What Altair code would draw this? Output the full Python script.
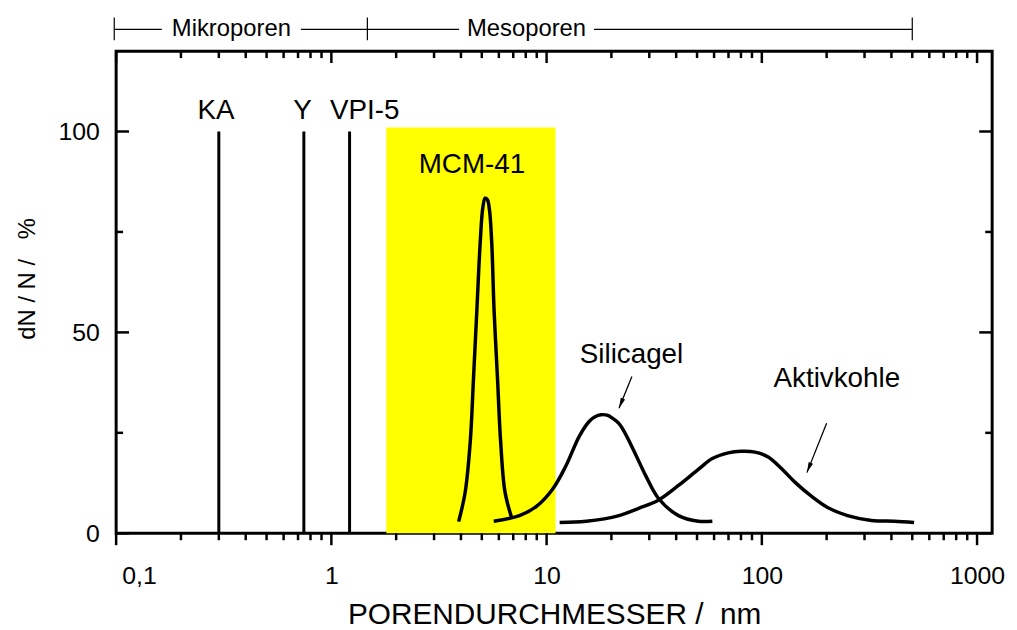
import altair as alt
import pandas as pd

FONT = "Liberation Sans"

# ---------------- data ----------------
mcm_x = [3.903, 4.187, 4.416, 4.579, 4.743, 4.912, 5.055, 5.180, 5.310, 5.427, 5.563, 5.700, 5.909, 6.119, 6.407, 6.878]
mcm_y = [2.9, 10.3, 22.6, 39.0, 55.6, 72.1, 81.1, 83.4, 83.0, 80.5, 72.1, 55.6, 39.0, 22.6, 10.3, 3.9]

sil_x = [5.68, 7.48, 8.97, 10.7, 12.3, 14.2, 15.8, 16.8, 17.9, 19.1, 20.3, 21.6, 22.6, 25.2, 28.9, 33.2, 41.0, 50.7, 58.9]
sil_y = [3.0, 4.4, 6.7, 11.1, 16.8, 24.2, 27.9, 29.0, 29.5, 29.4, 28.6, 27.4, 25.9, 21.0, 14.3, 8.6, 4.4, 3.0, 3.0]

akt_x = [11.5, 15.3, 21.7, 26.8, 33.2, 41.0, 50.7, 58.9, 69.8, 80.0, 93.0, 107, 124, 142, 171, 202, 250, 323, 412, 510]
akt_y = [2.7, 3.0, 4.4, 6.2, 8.3, 11.9, 15.9, 18.6, 20.0, 20.4, 20.2, 19.0, 16.0, 12.8, 9.1, 6.4, 4.4, 3.2, 3.0, 2.7]

zeolite_names = ["KA", "Y", "VPI-5"]
zeolite_pores = [0.30, 0.745, 1.215]
zeolite_top = [100, 100, 100]
zeolite_label_x = [0.291, 0.734, 1.43]
zeolite_label_y = [103.2, 103.2, 103.2]

band_from = [1.8]
band_to = [11.0]
band_top = [101]

curve_labels = ["MCM-41", "Silicagel", "Aktivkohle"]
curve_label_x = [4.5, 24.8, 223]
curve_label_y = [89.6, 42.5, 36.5]

arrow_x1 = [24.9, 200]
arrow_y1 = [39.0, 27.4]
arrow_x2 = [21.7, 162]
arrow_y2 = [31.1, 15.1]

range_names = ["Mikroporen", "Mesoporen"]
range_label_x = [0.343, 8.07]
range_line_from = [0.098, 0.722, 1.47, 16.6]
range_line_to = [0.163, 1.47, 3.92, 500]
range_marks = [0.098, 1.47, 500]
range_y = 125.4
range_mark_lo = 122.7
range_mark_hi = 128.4

x_major = [0.1, 1, 10, 100, 1000]
x_minor = [m * d for d in [0.1, 1, 10, 100] for m in range(2, 10)]
y_major = [0, 50, 100]
y_minor = [25, 75]

x_title = "PORENDURCHMESSER /\u00a0 nm"
y_title = "dN / N /\u00a0\u00a0 %"

W, H = 883, 486

# ---------------- scales ----------------
xs = alt.Scale(type="log", domain=[0.1, 1175], nice=False)
ys = alt.Scale(domain=[0, 120], nice=False, zero=False)

def X(field="x"):
    return alt.X(f"{field}:Q", scale=xs)

def Y(field="y"):
    return alt.Y(f"{field}:Q", scale=ys)

xaxis = alt.Axis(
    values=x_major, title=x_title,
    labelExpr="replace(format(datum.value, '~g'), '.', ',')",
    labelFont=FONT, labelFontSize=25, labelColor="black",
    labelOffset={"condition": {"test": "datum.value < 0.5", "value": 23}, "value": 0},
    labelPadding=31, ticks=False, domain=False, grid=False,
    titleFont=FONT, titleFontSize=30, titleFontWeight="normal", titleColor="black",
    titlePadding=11, labelFlush=False, labelOverlap=False,
)
yaxis = alt.Axis(
    values=y_major, title=y_title,
    labelFont=FONT, labelFontSize=25, labelColor="black",
    labelPadding=17, ticks=False, domain=False, grid=False,
    titleFont=FONT, titleFontSize=24, titleFontWeight="normal", titleColor="black",
    titleX=-89, titleY=229, titleAlign="center", titleBaseline="middle", titleAngle=270,
)

# band (carries the axes)
band_df = pd.DataFrame({"x": band_from, "x2": band_to, "y": [0], "y2": band_top})
band = alt.Chart(band_df).mark_rect(color="#FFFF00").encode(
    x=alt.X("x:Q", scale=xs, axis=xaxis), x2="x2:Q",
    y=alt.Y("y:Q", scale=ys, axis=yaxis), y2="y2:Q")

# curves
curves_df = pd.concat([
    pd.DataFrame({"x": mcm_x, "y": mcm_y, "s": "MCM-41"}),
    pd.DataFrame({"x": sil_x, "y": sil_y, "s": "Silicagel"}),
    pd.DataFrame({"x": akt_x, "y": akt_y, "s": "Aktivkohle"}),
])
curves = alt.Chart(curves_df).mark_line(
    color="black", strokeWidth=3.5, interpolate="catmull-rom"
).encode(x=X(), y=Y(), detail="s:N")

# zeolite lines
zeo_df = pd.DataFrame({"x": zeolite_pores, "y": [0] * 3, "y2": zeolite_top})
zeo = alt.Chart(zeo_df).mark_rule(color="black", strokeWidth=3).encode(
    x=X(), y=Y(), y2="y2:Q")
zeo_lab_df = pd.DataFrame({"x": zeolite_label_x, "y": zeolite_label_y, "t": zeolite_names})
zeo_lab = alt.Chart(zeo_lab_df).mark_text(
    font=FONT, fontSize=28, baseline="alphabetic", align="center", color="black"
).encode(x=X(), y=Y(), text="t:N")

# curve labels
cl_df = pd.DataFrame({"x": curve_label_x, "y": curve_label_y, "t": curve_labels})
cl = alt.Chart(cl_df).mark_text(
    font=FONT, fontSize=28, baseline="alphabetic", align="center", color="black"
).encode(x=X(), y=Y(), text="t:N")

# arrows
ar_df = pd.DataFrame({"x": arrow_x1, "y": arrow_y1, "x2": arrow_x2, "y2": arrow_y2})
ar_line = alt.Chart(ar_df).mark_rule(color="black", strokeWidth=1.3).encode(
    x=X(), y=Y(), x2="x2:Q", y2="y2:Q")
ar_head = alt.Chart(ar_df).mark_point(
    shape="M0,0L-0.45,-2L0.45,-2Z", filled=True, color="black", opacity=1,
    size=110, angle=22, strokeWidth=0
).encode(x=X("x2"), y=Y("y2"))

# range bracket above plot
rl_df = pd.DataFrame({"x": range_line_from, "x2": range_line_to, "y": [range_y] * 4})
rl = alt.Chart(rl_df).mark_rule(color="black", strokeWidth=1.2).encode(
    x=X(), x2="x2:Q", y=Y())
rm_df = pd.DataFrame({"x": range_marks, "y": [range_mark_lo] * 3, "y2": [range_mark_hi] * 3})
rm = alt.Chart(rm_df).mark_rule(color="black", strokeWidth=1.2).encode(
    x=X(), y=Y(), y2="y2:Q")
rt_df = pd.DataFrame({"x": range_label_x, "y": [range_y] * 2, "t": range_names})
rt = alt.Chart(rt_df).mark_text(
    font=FONT, fontSize=24, baseline="middle", align="center", color="black"
).encode(x=X(), y=Y(), text="t:N")

# ticks
xt_df = pd.concat([pd.DataFrame({"v": x_major, "k": "major"}),
                   pd.DataFrame({"v": x_minor, "k": "minor"})])
yt_df = pd.concat([pd.DataFrame({"v": y_major, "k": "major"}),
                   pd.DataFrame({"v": y_minor, "k": "minor"})])

def xticks(kind, y0, y1):
    return alt.Chart(xt_df).transform_filter(f"datum.k == '{kind}'").mark_rule(
        color="black", strokeWidth=2.5).encode(
        x=alt.X("v:Q", scale=xs), y=alt.value(y0), y2=alt.value(y1))

def yticks(kind, x0, x1):
    return alt.Chart(yt_df).transform_filter(f"datum.k == '{kind}'").mark_rule(
        color="black", strokeWidth=2.5).encode(
        y=alt.Y("v:Q", scale=ys), x=alt.value(x0), x2=alt.value(x1))

ticks = [
    xticks("major", H, H + 12), xticks("minor", H, H + 7),
    xticks("major", 0, 12), xticks("minor", 0, 7),
    yticks("major", 0, 13), yticks("minor", 0, 7),
    yticks("major", W, W - 13), yticks("minor", W, W - 7),
]

chart = alt.layer(
    band, curves, zeo, zeo_lab, cl, ar_line, ar_head, rl, rm, rt, *ticks
).properties(
    width=W, height=H,
    autosize=alt.AutoSizeParams(type="none"),
    padding={"left": 109, "top": 41, "right": 17, "bottom": 95},
    background="white",
).configure_view(stroke="black", strokeWidth=3)

chart.save("out.html", embed_options={"renderer": "svg", "actions": False})
